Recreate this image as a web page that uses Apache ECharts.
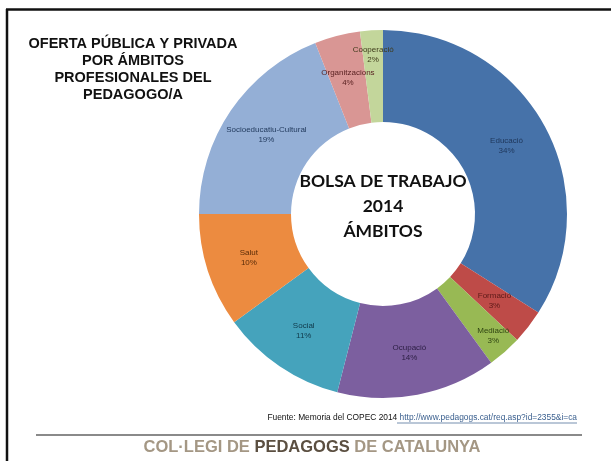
<!DOCTYPE html>
<html>
	<head>
		<meta charset="utf-8">
		<title>Bolsa de trabajo 2014 - Ámbitos</title>
		<style type="text/css">
			html, body{
				margin: 0;
				padding: 0;
				background: #fff;
			}
			#chart{
				width: 611px;
				height: 461px;
			}
		</style>
	</head>
	<body>
		<div id="chart"></div>

		<script src="https://cdn.jsdelivr.net/npm/echarts@6/dist/echarts.min.js"></script>
		<script>
			// 数据
			var ambitos = ['Educació', 'Formació', 'Mediació', 'Ocupació', 'Social', 'Salut', 'Socioeducatiu-Cultural', 'Organitzacions', 'Cooperació'];
			var percentatges = [34, 3, 3, 14, 11, 10, 19, 4, 2];
			var colors = ['#4672A9', '#BE4B48', '#98B954', '#7C5F9F', '#45A3BC', '#EC8B40', '#94AFD6', '#D99694', '#C3D69B'];
			var labelColors = ['#1E365A', '#5C1A18', '#2F4412', '#2E2046', '#10394A', '#5A2C08', '#1F375A', '#5A2222', '#3E3A1A'];

			var myChart = echarts.init(document.getElementById('chart'));

			var data = ambitos.map(function(name, i){
				return {
					name: name,
					value: percentatges[i],
					itemStyle: { color: colors[i] },
					label: { color: labelColors[i] }
				};
			});

			var option = {
				animation: false,
				series: [{
					type: 'pie',
					center: [383, 214],
					radius: [92, 184],
					startAngle: 90,
					data: data,
					label: {
						position: 'inside',
						formatter: '{b}\n{c}%',
						fontFamily: 'Liberation Sans',
						fontSize: 8,
						lineHeight: 10
					},
					labelLine: { show: false },
					labelLayout: function(params){
						// Excel empuja algunas etiquetas hacia fuera
						if (params.dataIndex === 2) return { dx: 17, dy: 16 };
						if (params.dataIndex === 8) return { dx: -1, dy: -18 };
						return {};
					},
					emphasis: { disabled: true }
				}],
				graphic: [
					// marco
					{ type: 'line', shape: { x1: 7, y1: 9, x2: 7, y2: 461 }, style: { stroke: '#111', lineWidth: 2.5 } },
					{ type: 'line', shape: { x1: 6, y1: 9.5, x2: 611, y2: 9.5 }, style: { stroke: '#111', lineWidth: 2.5 } },
					// título
					{
						type: 'text', x: 133, y: 69,
						style: {
							text: 'OFERTA PÚBLICA Y PRIVADA\nPOR ÁMBITOS\nPROFESIONALES DEL\nPEDAGOGO/A',
							align: 'center',
							verticalAlign: 'middle',
							fontFamily: 'Liberation Sans',
							fontWeight: 'bold',
							fontSize: 14.5,
							lineHeight: 17,
							fill: '#111'
						}
					},
					// centro
					{
						type: 'text', x: 383, y: 206,
						style: {
							text: 'BOLSA DE TRABAJO\n2014\nÁMBITOS',
							align: 'center',
							verticalAlign: 'middle',
							fontFamily: 'Lato',
							fontWeight: 'bold',
							fontSize: 17.5,
							lineHeight: 25,
							fill: '#111'
						}
					},
					// fuente
					{
						type: 'text', x: 577, y: 418,
						style: {
							text: '{a|Fuente: Memoria del COPEC 2014 }{u|http://www.pedagogs.cat/req.asp?id=2355&i=ca}',
							align: 'right',
							verticalAlign: 'middle',
							rich: {
								a: { fontFamily: 'Liberation Sans', fontSize: 8.4, fill: '#111' },
								u: { fontFamily: 'Liberation Sans', fontSize: 8.4, fill: '#3A5F8E' }
							}
						}
					},
					{ type: 'line', shape: { x1: 397, y1: 423, x2: 577, y2: 423 }, style: { stroke: '#3A5F8E', lineWidth: 0.7 } },
					// línea gris
					{ type: 'line', shape: { x1: 36, y1: 435, x2: 582, y2: 435 }, style: { stroke: '#8A8A8A', lineWidth: 2 } },
					// pie de página
					{
						type: 'text', x: 312, y: 447,
						style: {
							text: '{a|COL·LEGI DE }{b|PEDAGOGS}{a| DE CATALUNYA}',
							align: 'center',
							verticalAlign: 'middle',
							rich: {
								a: { fontFamily: 'Liberation Sans', fontWeight: 'bold', fontSize: 16.5, fill: '#A49784' },
								b: { fontFamily: 'Liberation Sans', fontWeight: 'bold', fontSize: 16.5, fill: '#5B4F41' }
							}
						}
					}
				]
			};

			myChart.setOption(option);
		</script>
	</body>
</html>
